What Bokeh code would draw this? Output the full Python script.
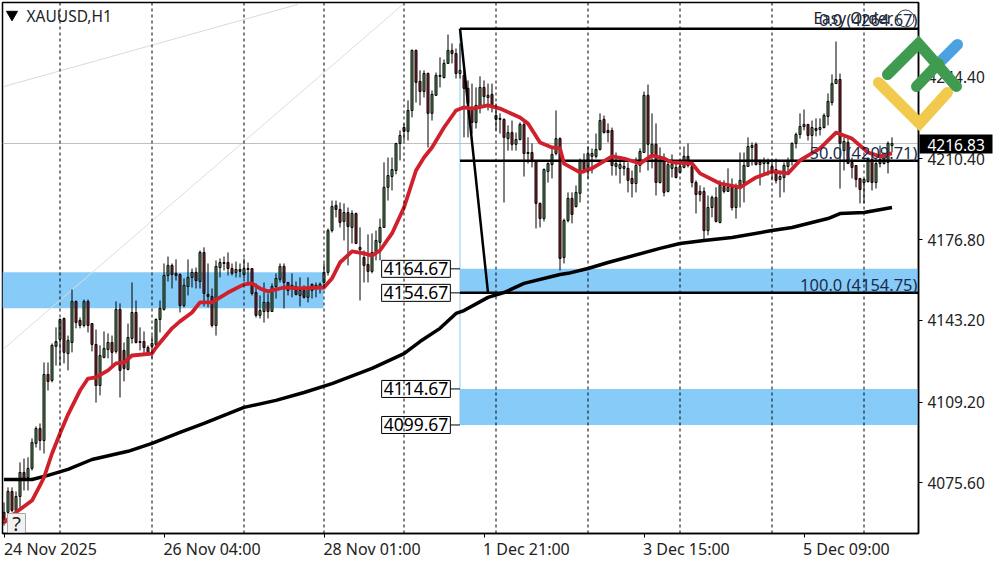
from bokeh.plotting import figure
from bokeh.models import Range1d, Span, Label, FixedTicker, NumeralTickFormatter
from bokeh.core.properties import value
from bokeh.embed import file_html
from bokeh.resources import INLINE
import numpy as np

opens = [4063.3,4063.3,4072.0,4064.1,4069.9,4079.9,4077.8,4081.6,4092.0,4098.2,
4093.2,4120.7,4118.2,4132.4,4135.3,4144.0,4129.4,4134.0,4151.1,4143.2,
4141.1,4151.1,4141.9,4133.2,4116.1,4127.8,4131.1,4134.0,4130.3,4147.8,
4130.7,4122.8,4135.7,4146.5,4134.4,4134.4,4131.9,4132.4,4133.2,4143.6,
4147.8,4161.9,4166.1,4162.8,4162.3,4149.4,4157.3,4161.1,4163.2,4159.4,
4171.5,4154.0,4153.2,4141.1,4165.2,4166.9,4167.3,4164.8,4163.2,4164.4,
4162.3,4164.4,4164.8,4154.8,4145.3,4146.9,4150.7,4146.9,4157.3,4160.3,
4165.7,4159.0,4157.3,4157.3,4153.6,4155.7,4152.8,4158.2,4156.5,4156.9,
4159.0,4163.2,4180.6,4191.1,4189.4,4184.4,4188.1,4181.9,4187.7,4173.6,
4169.4,4166.5,4163.6,4171.1,4175.7,4181.9,4198.6,4203.1,4205.6,4216.9,
4223.5,4221.9,4230.6,4255.6,4242.7,4238.5,4246.0,4229.4,4236.9,4244.8,
4244.3,4250.2,4255.6,4254.3,4246.0,4245.2,4239.8,4231.9,4225.6,4232.3,
4240.2,4236.0,4237.3,4228.5,4227.3,4226.9,4218.9,4221.4,4216.5,4218.5,
4224.8,4213.1,4213.1,4209.4,4191.9,4185.6,4205.2,4208.1,4212.7,4218.9,
4169.4,4184.8,4194.0,4190.6,4196.1,4209.4,4205.6,4211.5,4211.5,4214.4,
4226.9,4222.3,4222.3,4207.3,4206.5,4206.5,4206.5,4202.3,4200.2,4207.7,
4213.1,4236.9,4212.7,4216.5,4200.6,4211.0,4196.9,4206.5,4206.9,4204.8,
4206.9,4211.5,4207.3,4200.6,4196.9,4196.9,4180.6,4190.2,4194.4,4184.0,
4199.0,4196.9,4198.6,4190.2,4198.1,4200.6,4207.3,4215.2,4216.5,4208.1,
4208.5,4208.5,4207.3,4206.0,4201.9,4202.7,4207.3,4209.4,4216.9,4220.6,
4223.9,4224.8,4220.2,4223.1,4222.7,4223.5,4228.1,4233.9,4241.8,4243.5,
4213.9,4217.3,4209.0,4207.7,4202.3,4200.6,4201.0,4210.2,4200.6,4208.5,
4208.5,4209.0,4216.0]
highs = [4067.4,4073.7,4073.7,4072.0,4084.1,4085.7,4086.2,4094.1,4099.1,4100.3,
4125.7,4125.7,4133.6,4140.3,4144.0,4144.4,4136.9,4156.1,4151.5,4144.4,
4151.9,4151.9,4141.9,4139.4,4132.8,4138.6,4137.8,4136.9,4151.1,4150.3,
4134.0,4141.9,4159.0,4151.5,4140.3,4138.6,4132.8,4136.9,4144.0,4151.5,
4166.9,4169.8,4166.9,4168.6,4162.8,4160.7,4168.6,4164.8,4165.2,4172.3,
4173.6,4166.9,4156.5,4168.2,4169.0,4169.8,4171.5,4166.9,4167.7,4166.9,
4169.0,4167.3,4164.8,4158.6,4153.6,4159.0,4154.4,4158.6,4162.8,4166.9,
4166.9,4159.0,4162.8,4159.4,4161.1,4157.8,4161.1,4158.6,4159.0,4159.0,
4166.9,4181.5,4193.1,4193.1,4192.3,4191.9,4190.2,4189.0,4188.1,4181.9,
4172.3,4179.0,4179.4,4180.6,4185.6,4209.0,4211.0,4211.0,4216.9,4222.3,
4225.2,4234.8,4256.0,4256.0,4247.3,4247.3,4246.4,4238.9,4246.4,4252.7,
4251.8,4262.2,4258.5,4256.4,4258.5,4248.5,4243.1,4241.8,4240.2,4244.8,
4243.1,4241.8,4241.8,4233.5,4229.4,4227.3,4224.4,4226.4,4221.4,4225.6,
4226.4,4219.4,4216.9,4209.8,4192.3,4206.5,4209.0,4214.8,4230.6,4219.4,
4185.6,4196.5,4196.5,4199.4,4210.6,4212.7,4215.6,4214.8,4221.0,4229.4,
4228.5,4225.2,4223.5,4213.1,4209.8,4211.0,4209.0,4205.6,4211.0,4214.8,
4238.5,4241.4,4229.4,4225.2,4215.2,4212.7,4209.8,4212.3,4209.0,4209.8,
4215.6,4216.9,4209.8,4201.5,4199.4,4198.6,4195.2,4195.2,4198.6,4201.5,
4201.5,4206.5,4202.3,4200.2,4213.1,4213.1,4219.4,4217.3,4217.3,4210.2,
4211.0,4210.6,4210.2,4210.6,4205.6,4209.0,4211.0,4217.3,4221.4,4229.4,
4231.0,4224.8,4226.4,4227.3,4227.3,4229.4,4237.7,4245.6,4259.3,4246.0,
4219.4,4218.9,4211.0,4207.7,4202.3,4202.3,4211.0,4211.9,4210.6,4216.0,
4213.1,4217.7,4219.4]
lows = [4057.8,4062.0,4063.3,4063.3,4065.3,4072.4,4072.4,4080.7,4090.3,4089.1,
4087.8,4114.0,4117.4,4124.4,4124.4,4125.3,4122.4,4129.9,4139.9,4139.9,
4140.3,4138.2,4130.3,4109.0,4112.0,4127.4,4127.4,4124.4,4129.4,4111.1,
4117.8,4122.4,4133.6,4133.6,4130.7,4129.4,4128.6,4127.4,4132.8,4138.2,
4147.3,4159.4,4156.5,4159.8,4146.5,4148.6,4153.6,4156.9,4156.5,4156.5,
4149.0,4148.6,4140.3,4136.9,4161.1,4164.0,4161.9,4161.9,4161.1,4161.1,
4160.7,4157.8,4153.6,4144.4,4144.0,4142.3,4144.0,4146.9,4152.3,4159.0,
4148.2,4153.6,4152.8,4153.6,4149.0,4152.3,4150.7,4152.3,4152.8,4154.4,
4156.1,4161.9,4179.8,4186.1,4181.9,4176.5,4166.1,4175.2,4175.2,4151.5,
4159.0,4159.0,4162.8,4168.2,4168.2,4181.9,4193.1,4197.3,4204.0,4209.8,
4218.1,4218.1,4227.7,4233.9,4232.7,4236.0,4215.2,4226.4,4236.9,4240.2,
4243.9,4250.2,4250.2,4243.9,4243.9,4219.4,4219.4,4221.0,4223.1,4229.4,
4231.9,4230.6,4229.8,4222.3,4221.0,4192.3,4213.9,4213.9,4213.9,4218.1,
4203.1,4208.5,4206.9,4181.5,4181.9,4184.4,4200.6,4202.3,4211.9,4164.0,
4166.9,4184.0,4183.6,4190.2,4192.3,4204.4,4202.3,4204.4,4210.6,4213.9,
4221.0,4217.3,4203.5,4203.5,4200.2,4203.5,4196.5,4194.4,4196.5,4204.8,
4213.1,4205.6,4206.5,4195.2,4200.2,4194.8,4196.5,4202.7,4202.3,4204.4,
4206.5,4206.9,4198.6,4187.7,4192.7,4176.5,4178.6,4186.1,4184.0,4183.6,
4196.1,4196.9,4189.0,4185.6,4190.2,4192.3,4207.3,4207.7,4207.7,4199.4,
4203.5,4203.5,4201.5,4200.2,4194.4,4196.5,4204.8,4207.7,4214.8,4218.9,
4222.3,4218.1,4215.2,4219.8,4220.2,4223.1,4224.4,4232.7,4241.8,4198.1,
4205.6,4208.5,4202.3,4198.6,4191.9,4191.9,4200.6,4197.3,4198.1,4206.9,
4208.1,4204.4,4213.1]
closes = [4059.1,4072.0,4064.1,4069.9,4079.9,4077.4,4081.6,4092.4,4098.2,4093.2,
4120.7,4117.8,4132.8,4134.4,4143.6,4129.9,4134.9,4151.1,4142.3,4141.1,
4151.1,4141.1,4133.2,4116.1,4128.6,4131.5,4134.0,4129.9,4147.8,4122.4,
4123.2,4136.1,4146.5,4134.0,4134.0,4131.9,4129.4,4133.6,4143.6,4148.2,
4161.9,4166.1,4162.3,4161.9,4149.4,4157.8,4161.1,4163.2,4159.8,4171.5,
4154.4,4153.2,4141.1,4165.7,4167.3,4167.3,4164.8,4162.8,4164.4,4163.6,
4164.8,4164.8,4154.4,4145.3,4147.3,4150.7,4146.9,4157.3,4160.7,4165.7,
4159.0,4155.7,4157.8,4154.0,4155.7,4152.8,4156.1,4155.7,4157.8,4158.2,
4163.2,4180.6,4190.6,4189.4,4184.0,4188.1,4182.3,4187.7,4175.2,4172.7,
4166.1,4163.6,4171.5,4176.5,4181.9,4198.6,4203.5,4206.0,4216.9,4220.2,
4221.9,4230.6,4255.6,4242.3,4238.5,4246.0,4229.4,4237.3,4245.2,4245.2,
4250.2,4255.6,4254.3,4246.0,4247.3,4239.8,4233.5,4225.6,4232.7,4240.2,
4236.4,4236.9,4232.3,4226.9,4226.9,4219.4,4221.4,4216.5,4218.5,4224.8,
4212.7,4212.7,4210.2,4191.9,4185.6,4206.0,4208.5,4212.3,4218.9,4169.0,
4184.8,4194.0,4187.3,4196.5,4209.4,4206.0,4212.7,4212.7,4214.4,4226.4,
4221.4,4221.4,4207.7,4208.5,4208.1,4207.3,4201.5,4200.2,4207.7,4213.5,
4236.9,4216.5,4216.5,4200.6,4209.8,4196.5,4208.1,4208.1,4202.7,4207.3,
4211.5,4207.7,4200.6,4195.6,4195.6,4180.6,4190.2,4194.4,4184.4,4199.4,
4196.9,4198.6,4190.2,4198.1,4201.5,4207.7,4215.6,4216.0,4208.1,4209.0,
4209.8,4209.0,4205.6,4201.5,4203.1,4207.7,4209.4,4216.9,4220.6,4223.9,
4224.8,4220.2,4223.5,4222.3,4223.5,4228.5,4234.4,4241.8,4243.5,4216.9,
4217.7,4208.5,4206.9,4201.9,4197.7,4201.9,4210.2,4200.6,4208.5,4210.2,
4210.6,4216.9,4216.83]

ma20_bars = [0,3,7,9,10,12,14,16,19,21,23,26,28,30,32,37,38,42,44,47,49,52,56,60,62,64,66,70,74,80,82,84,87,90,92,94,97,100,103,105,107,110,113,115,117,121,124,129,131,134,137,139,140,144,147,152,155,159,162,165,167,172,174,179,184,188,192,196,199,204,208,212,216,219,222]
ma20_values = [4059.1,4063.3,4068.2,4074.5,4077.8,4087.8,4096.1,4104.0,4114.0,4119.0,4119.5,4122.4,4125.3,4125.7,4128.6,4129.4,4131.9,4139.9,4142.8,4146.5,4150.7,4150.7,4154.8,4158.2,4158.6,4156.5,4155.3,4156.9,4156.5,4156.9,4160.7,4167.3,4171.9,4171.1,4170.2,4172.3,4179.4,4190.2,4205.6,4211.0,4215.2,4223.5,4230.6,4231.9,4231.4,4232.7,4231.4,4227.7,4225.2,4217.3,4215.2,4214.8,4208.5,4204.8,4206.5,4211.5,4210.6,4208.5,4211.9,4210.6,4209.0,4208.5,4204.4,4200.2,4198.6,4202.7,4205.2,4204.4,4209.8,4214.8,4221.4,4218.9,4213.1,4211.5,4212.7]
ma200_bars = [0,7,11,16,22,31,37,44,50,60,68,75,82,92,100,104,109,113,115,121,125,130,139,141,146,151,164,169,175,182,192,197,206,209,215,222]
ma200_values = [4077.0,4077.0,4078.7,4081.2,4085.3,4088.7,4092.0,4096.6,4100.3,4107.0,4109.9,4113.2,4116.9,4123.2,4129.4,4134.4,4139.9,4146.1,4147.3,4152.8,4154.8,4158.6,4162.3,4162.8,4164.8,4167.3,4173.2,4175.2,4176.5,4177.7,4180.6,4181.9,4185.6,4187.7,4188.1,4190.2]

day_separators = [14,37,60,80,100,123,146,169,192,215]
price_ticks = [4244.40,4210.40,4176.80,4143.20,4109.20,4075.60]
time_ticks = [0,40,80,120,160,200]
time_label_centres = [11.6,52.0,92.0,130.6,170.6,210.6]
time_labels = ["24 Nov 2025","26 Nov 04:00","28 Nov 01:00","1 Dec 21:00","3 Dec 15:00","5 Dec 09:00"]
fibo_levels = [4264.67,4209.71,4154.75]
fibo_labels = ["0.0 (4264.67)","50.0 (4209.71)","100.0 (4154.75)"]
fibo_start, fibo_turn = 114, 121
zone_levels = [4164.67,4154.67,4114.67,4099.67]
left_zone = (4163.2,4148.3)
current_price = 4216.83

def bx(px): return (px-3.5)/4
def py(y): return 4276.38-0.4163*y

FONT = "Noto Sans"
idx = np.arange(len(opens))
o, h, l, c = map(np.array, (opens, highs, lows, closes))
up = c >= o

p = figure(width=1000, height=562, output_backend="svg", toolbar_location=None,
           x_range=Range1d(bx(2), bx(918)), y_range=Range1d(py(533), py(2)),
           min_border_left=2, min_border_right=82, min_border_top=2, min_border_bottom=29,
           x_axis_location="below", y_axis_location="right",
           styles={"position":"absolute","left":"0px","top":"0px"})
p.background_fill_color = "white"
p.border_fill_color = "white"
p.grid.visible = False
p.outline_line_color = "black"
p.outline_line_width = 1.5

ya = p.yaxis[0]
ya.ticker = FixedTicker(ticks=price_ticks)
ya.formatter = NumeralTickFormatter(format="0.00")
ya.major_tick_in = 0; ya.major_tick_out = 4; ya.minor_tick_line_color = None
ya.major_label_standoff = 5
ya.major_label_text_font = FONT; ya.major_label_text_font_size = "15.5px"
ya.major_label_text_color = "#222222"
ya.axis_line_color = "black"; ya.axis_line_width = 1.5
xa = p.xaxis[0]
xa.ticker = FixedTicker(ticks=time_label_centres, minor_ticks=time_ticks)
xa.major_label_overrides = dict(zip(time_label_centres, time_labels))
xa.major_tick_line_color = None; xa.major_tick_in = 0; xa.major_tick_out = 0
xa.minor_tick_in = 0; xa.minor_tick_out = 4; xa.minor_tick_line_color = "black"
xa.major_label_standoff = 0
xa.major_label_text_font = FONT; xa.major_label_text_font_size = "16px"
xa.major_label_text_color = "#222222"
xa.axis_line_color = "black"; xa.axis_line_width = 1.5

BLUE = "#87cbf9"
p.quad(left=bx(2), right=bx(323), top=left_zone[0], bottom=left_zone[1], fill_color=BLUE, line_color=None)
p.quad(left=fibo_start, right=bx(918), top=zone_levels[0], bottom=zone_levels[1], fill_color=BLUE, line_color=None)
p.quad(left=fibo_start, right=bx(918), top=zone_levels[2], bottom=zone_levels[3], fill_color=BLUE, line_color=None)

p.line([0, 73.4], [py(86), py(4)], line_color="#d9d9d9", line_width=1)
p.line([0, 100], [py(348), py(3)], line_color="#dddddd", line_width=1)
p.segment(x0=bx(2), x1=bx(918), y0=current_price, y1=current_price, line_color="#bdbdbd", line_width=1)
p.segment(x0=fibo_start, x1=fibo_start, y0=fibo_levels[0], y1=zone_levels[3], line_color="#8ecbf2", line_width=1)

p.segment(idx, h, idx, l, line_color="black", line_width=1)
p.vbar(x=idx[up], width=0.5, top=c[up], bottom=o[up], fill_color="#5c9f5c", line_color="black", line_width=1)
p.vbar(x=idx[~up], width=0.5, top=o[~up], bottom=c[~up], fill_color="#a4222c", line_color="black", line_width=1)

for lv in fibo_levels:
    p.segment(x0=fibo_start, x1=bx(918), y0=lv, y1=lv, line_color="black", line_width=2.5)
p.line([fibo_start, fibo_turn], [fibo_levels[0], fibo_levels[2]], line_color="black", line_width=2.5)

p.line(ma200_bars, ma200_values, line_color="black", line_width=3.5, line_join="round")
p.line(ma20_bars, ma20_values, line_color="#d0202c", line_width=3.8, line_join="round")

for lv in zone_levels:
    p.segment(x0=bx(449), x1=fibo_start, y0=lv, y1=lv, line_color="black", line_width=1)

p.quad(left=bx(7), right=bx(25), top=py(513), bottom=py(533), fill_color="#f1f1f1", line_color="#a8a8a8", line_width=1)
p.scatter([bx(905)], [py(18)], size=17, marker="circle", fill_alpha=0, line_color="#333333", line_width=1)
p.scatter([bx(11.5)], [py(14)], size=11, marker="inverted_triangle", fill_color="black", line_color="black")

def lab(px, y, text, size, color="#222222", align="left", **kw):
    p.add_layout(Label(x=bx(px), y=py(y), text=text, text_font=FONT, text_font_size=f"{size}px",
                       text_color=color, text_align=align, text_baseline="middle", **kw))

lab(26, 15, "XAUUSD,H1", 15.5)
lab(16, 523, "?", 20, align="center")
lab(813, 17, "Easy Order", 15.5)
lab(917, 19, fibo_labels[0], 16.5, "#1b2b4b", "right")
lab(917, 152, fibo_labels[1], 16.5, "#1b2b4b", "right")
lab(917, 284, fibo_labels[2], 16.5, "#1b2b4b", "right")
for lv in zone_levels:
    p.add_layout(Label(x=bx(415.5), y=lv, text=f"{lv:.2f}", text_font=FONT, text_font_size="17.5px",
                       text_color="black", text_align="center", text_baseline="middle",
                       background_fill_color="white", border_line_color="black", border_line_width=1,
                       padding=(2, 2)))

for d in day_separators:
    p.add_layout(Span(location=d, dimension="height", line_color="black", line_dash="3 3", line_width=1, level="overlay"))

# transparent layer over the window for what sits across the frame edge: price tag and logo
ov = figure(width=1000, height=562, output_backend="svg", toolbar_location=None,
            x_range=Range1d(0, 1000), y_range=Range1d(562, 0), x_axis_type=None, y_axis_type=None,
            min_border=0, outline_line_color=None, background_fill_color=None, border_fill_color=None,
            styles={"position":"absolute","left":"0px","top":"0px","pointer-events":"none"})
ov.grid.visible = False
ov.quad(left=919, right=992, top=134, bottom=153, fill_color="black", line_color=None)
ov.text([927], [144], text=[f"{current_price:.2f}"], text_font=value(FONT), text_font_size="15.5px",
        text_color="white", text_align="left", text_baseline="middle")
logo = [("#f0c94d", [878,919,947], [82,123,92]),
        ("#4aa3e0", [938,957], [63,44]),
        ("#3f9b4f", [887,918,956], [74,43,86]),
        ("#3f9b4f", [916,938], [86,63])]
for col, xs, ys in logo:
    ov.line(xs, ys, line_color=col, line_width=11, line_cap="round", line_join="miter")

open("out.html", "w").write(file_html((p, ov), INLINE))
